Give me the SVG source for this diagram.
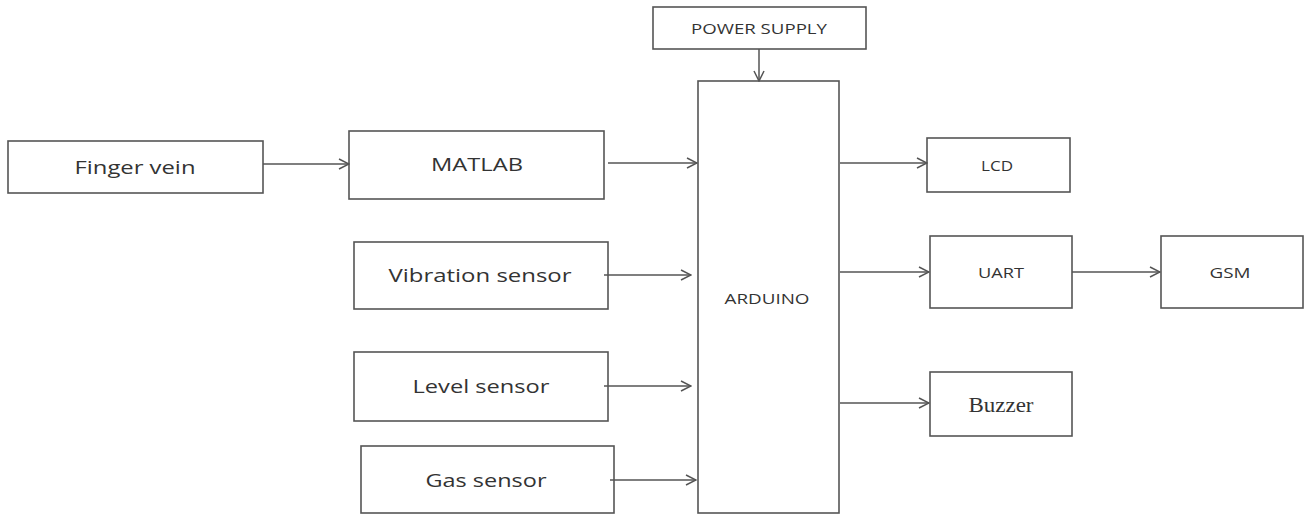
<svg xmlns="http://www.w3.org/2000/svg" width="1306" height="515" viewBox="0 0 1306 515">
<style>
.box{fill:#fff;stroke:#555;stroke-width:1.6}
.t{font-family:"Open Sans","Liberation Sans",sans-serif;fill:#333;text-anchor:middle;dominant-baseline:central}
.big{font-size:19px}
.sm{font-size:15px}
.serif{font-family:"Liberation Serif",serif;font-size:20px;fill:#333;text-anchor:middle;dominant-baseline:central}
.c{stroke:#555;stroke-width:1.5;fill:none;marker-end:url(#ah)}
</style>
<defs>
<marker id="ah" viewBox="0 0 12 12" refX="11" refY="6" markerWidth="12" markerHeight="12" markerUnits="userSpaceOnUse" orient="auto">
<path d="M1,1 L11,6 L1,11" fill="none" stroke="#555" stroke-width="1.5"/>
</marker>
</defs>
<rect width="1306" height="515" fill="#fff"/>
<g id="finger-vein"><rect class="box" x="8" y="141" width="255" height="52"/><text class="t big" x="135" y="167" textLength="121" lengthAdjust="spacingAndGlyphs">Finger vein</text></g>
<g id="matlab"><rect class="box" x="349" y="131" width="255" height="68"/><text class="t big" x="477" y="164" textLength="92" lengthAdjust="spacingAndGlyphs">MATLAB</text></g>
<g id="vibration-sensor"><rect class="box" x="354" y="242" width="254" height="67"/><text class="t big" x="480" y="275" textLength="183" lengthAdjust="spacingAndGlyphs">Vibration sensor</text></g>
<g id="level-sensor"><rect class="box" x="354" y="352" width="254" height="69"/><text class="t big" x="481" y="386" textLength="137" lengthAdjust="spacingAndGlyphs">Level sensor</text></g>
<g id="gas-sensor"><rect class="box" x="361" y="446" width="253" height="67"/><text class="t big" x="486" y="480" textLength="121" lengthAdjust="spacingAndGlyphs">Gas sensor</text></g>
<g id="power-supply"><rect class="box" x="653" y="7" width="213" height="42"/><text class="t sm" x="759" y="28" textLength="136" lengthAdjust="spacingAndGlyphs">POWER SUPPLY</text></g>
<g id="arduino"><rect class="box" x="698" y="81" width="141" height="432"/><text class="t sm" x="767" y="298" textLength="85" lengthAdjust="spacingAndGlyphs">ARDUINO</text></g>
<g id="lcd"><rect class="box" x="927" y="138" width="143" height="54"/><text class="t sm" x="997" y="165" textLength="32" lengthAdjust="spacingAndGlyphs">LCD</text></g>
<g id="uart"><rect class="box" x="930" y="236" width="142" height="72"/><text class="t sm" x="1001" y="272" textLength="46" lengthAdjust="spacingAndGlyphs">UART</text></g>
<g id="gsm"><rect class="box" x="1161" y="236" width="142" height="72"/><text class="t sm" x="1230" y="272" textLength="41" lengthAdjust="spacingAndGlyphs">GSM</text></g>
<g id="buzzer"><rect class="box" x="930" y="372" width="142" height="64"/><text class="serif" x="1001" y="405" textLength="65" lengthAdjust="spacingAndGlyphs">Buzzer</text></g>
<g id="connectors">
<line class="c" x1="263" y1="164" x2="349" y2="164"/>
<line class="c" x1="608" y1="163" x2="697" y2="163"/>
<line class="c" x1="604" y1="275" x2="691" y2="275"/>
<line class="c" x1="604" y1="386" x2="691" y2="386"/>
<line class="c" x1="610" y1="480" x2="696" y2="480"/>
<line class="c" x1="759" y1="49" x2="759" y2="81"/>
<line class="c" x1="840" y1="163" x2="927" y2="163"/>
<line class="c" x1="840" y1="272" x2="929" y2="272"/>
<line class="c" x1="1072" y1="272" x2="1160" y2="272"/>
<line class="c" x1="840" y1="403" x2="929" y2="403"/>
</g>
</svg>
